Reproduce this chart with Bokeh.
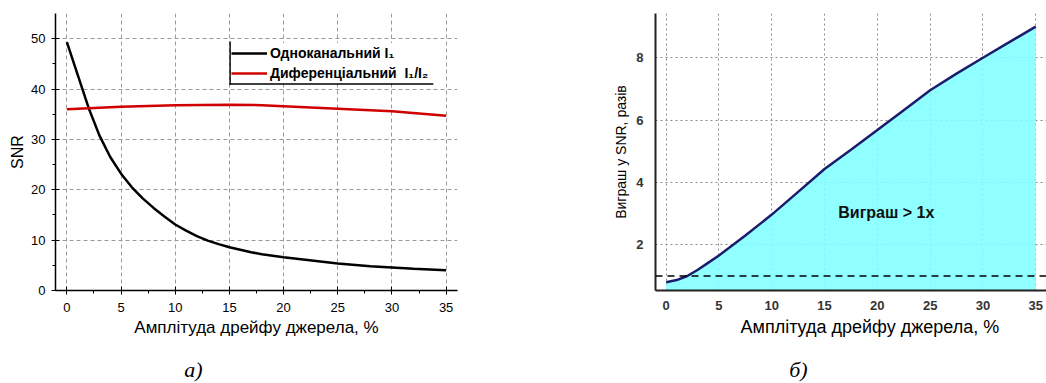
from bokeh.plotting import figure
from bokeh.layouts import row, column
from bokeh.models import (Legend, LegendItem, Span, Label, Title, FixedTicker,
                          Range1d, BoxAnnotation)
from bokeh.embed import file_html
from bokeh.resources import INLINE

# ---- data ----
drift_single = [0, 1, 2, 3, 4, 5, 6, 7, 8, 9, 10, 11, 12, 13, 14, 15, 16, 17, 18, 20,
                22, 25, 28, 30, 32, 35]
snr_single = [49.3, 42.8, 36.3, 30.8, 26.5, 23.2, 20.5, 18.3, 16.4, 14.7, 13.1, 11.9,
              10.8, 9.9, 9.2, 8.6, 8.1, 7.6, 7.2, 6.6, 6.1, 5.35, 4.8, 4.55, 4.3, 4.0]
drift_diff = [0, 5, 10, 15, 18, 20, 25, 30, 35]
snr_diff = [36.0, 36.5, 36.8, 36.9, 36.8, 36.6, 36.1, 35.6, 34.7]

drift_gain = [0, 1, 2, 3, 4, 5, 7.5, 10, 12.5, 15, 17.5, 20, 22.5, 25, 27.5, 30, 32.5, 35]
gain = [0.80, 0.87, 1.0, 1.2, 1.43, 1.66, 2.3, 2.97, 3.7, 4.43, 5.05, 5.68, 6.32, 6.96,
        7.49, 8.0, 8.5, 9.0]
gain_threshold = 1.0

x_ticks = [0, 5, 10, 15, 20, 25, 30, 35]
x_minor = [2.5, 7.5, 12.5, 17.5, 22.5, 27.5, 32.5]
snr_ticks = [0, 10, 20, 30, 40, 50]
snr_minor = [5, 15, 25, 35, 45]
gain_ticks = [2, 4, 6, 8]

label_single = "Одноканальний I\u2081"
label_diff = "Диференціальний  I\u2081/I\u2082"
x_title = "Амплітуда дрейфу джерела, %"
panel_tags = ["а)", "б)"]

FONT = "Liberation Sans"
SERIF = "Liberation Serif"

# ---- left chart ----
p1 = figure(width=538, height=350, x_range=Range1d(-1.05, 36.05), y_range=Range1d(0, 55),
            output_backend="svg", toolbar_location=None,
            min_border_left=55, min_border_right=81, min_border_top=13, min_border_bottom=60)
p1.outline_line_color = None

r1 = p1.line(drift_single, snr_single, line_color="black", line_width=2.5)
r2 = p1.line(drift_diff, snr_diff, line_color="#d10000", line_width=2.5)

p1.xaxis.ticker = FixedTicker(ticks=x_ticks, minor_ticks=x_minor)
p1.yaxis.ticker = FixedTicker(ticks=snr_ticks, minor_ticks=snr_minor)
for ax in (p1.xaxis[0], p1.yaxis[0]):
    ax.axis_line_width = 1.5
    ax.axis_line_color = "black"
    ax.major_tick_in = 4
    ax.major_tick_out = 4
    ax.minor_tick_in = 0
    ax.minor_tick_out = 3
    ax.major_tick_line_color = "black"
    ax.minor_tick_line_color = "black"
    ax.major_label_text_font = FONT
    ax.major_label_text_font_size = "13px"
    ax.major_label_text_color = "black"
    ax.axis_label_text_font = FONT
    ax.axis_label_text_font_style = "normal"
    ax.axis_label_text_color = "black"
p1.xaxis.axis_label_text_font_size = "17px"
p1.yaxis.axis_label_text_font_size = "16px"
p1.xaxis.major_label_standoff = 8
p1.yaxis.major_label_standoff = 6
p1.xaxis.axis_label = x_title
p1.xaxis.axis_label_standoff = 3
p1.yaxis.axis_label = "SNR"
p1.yaxis.axis_label_standoff = 2

p1.xgrid.ticker = FixedTicker(ticks=x_ticks)
p1.ygrid.ticker = FixedTicker(ticks=snr_ticks[1:])
p1.grid.grid_line_color = "#9a9a9a"
p1.grid.grid_line_dash = "4 3"
p1.grid.grid_line_width = 1

legend = Legend(items=[LegendItem(label=label_single, renderers=[r1]),
                       LegendItem(label=label_diff, renderers=[r2])],
                location=(176, 207), orientation="vertical",
                label_text_font=FONT, label_text_font_size="14px",
                label_text_font_style="bold", label_text_color="black",
                glyph_width=36, glyph_height=20, label_height=20, label_standoff=3,
                padding=0, spacing=0, margin=0,
                border_line_color=None, background_fill_color="white",
                background_fill_alpha=1.0)
p1.add_layout(legend)
# L-shaped legend frame (left and bottom edges), drawn on top of the legend
p1.add_layout(BoxAnnotation(left=15.0, right=15.13, bottom=40.85, top=49.45,
                            fill_color="black", fill_alpha=1, line_alpha=0,
                            level="overlay"))
p1.add_layout(BoxAnnotation(left=15.0, right=33.82, bottom=40.85, top=41.15,
                            fill_color="black", fill_alpha=1, line_alpha=0,
                            level="overlay"))

# ---- right chart ----
p2 = figure(width=508, height=350, x_range=Range1d(-1.01, 36.02), y_range=Range1d(0.535, 9.42),
            output_backend="svg", toolbar_location=None,
            min_border_left=117, min_border_right=0, min_border_top=13, min_border_bottom=58)
p2.outline_line_color = None

p2.varea(x=drift_gain, y1=0, y2=gain, fill_color="#7FFFFF", fill_alpha=0.88)
p2.line(drift_gain, gain, line_color="#1c1c6e", line_width=2.5)
p2.add_layout(Span(location=gain_threshold, dimension="width", line_color="black",
                   line_dash="7 5", line_width=1.5))
p2.add_layout(Label(x=16.3, y=3.04, text="Виграш > 1x", text_font=FONT,
                    text_font_size="16px", text_font_style="bold",
                    text_baseline="middle", text_color="#111111"))

p2.xaxis.ticker = FixedTicker(ticks=x_ticks)
p2.yaxis.ticker = FixedTicker(ticks=gain_ticks)
for ax in (p2.xaxis[0], p2.yaxis[0]):
    ax.axis_line_width = 2
    ax.axis_line_color = "#222222"
    ax.major_tick_in = 0
    ax.major_tick_out = 0
    ax.minor_tick_in = 0
    ax.minor_tick_out = 0
    ax.major_label_text_font = FONT
    ax.major_label_text_font_size = "13px"
    ax.major_label_text_font_style = "bold"
    ax.major_label_text_color = "#333333"
    ax.axis_label_text_font = FONT
    ax.axis_label_text_font_size = "14px"
    ax.axis_label_text_font_style = "normal"
    ax.axis_label_text_color = "black"
p2.xaxis.major_label_standoff = 10
p2.yaxis.major_label_standoff = 12
p2.yaxis.axis_label = "Виграш у SNR, разів"
p2.yaxis.axis_label_standoff = 4

p2.xgrid.ticker = FixedTicker(ticks=x_ticks)
p2.ygrid.ticker = FixedTicker(ticks=gain_ticks)
p2.grid.grid_line_color = "#8a8a8a"
p2.grid.grid_line_dash = "2 3"
p2.grid.grid_line_width = 1

p2.add_layout(Title(text=x_title, align="left", offset=85, text_font=FONT,
                    text_font_size="18px", text_font_style="normal",
                    text_color="black", standoff=4), "below")

# ---- strip with the panel tags а) / б) ----
p3 = figure(width=1046, height=33, x_range=Range1d(0, 1046), y_range=Range1d(33, 0),
            x_axis_type=None, y_axis_type=None, output_backend="svg",
            toolbar_location=None, min_border=0)
p3.outline_line_color = None
p3.grid.visible = False
for tag, cx in zip(panel_tags, [193, 798]):
    p3.add_layout(Label(x=cx, y=19, text=tag, text_font=SERIF, text_font_style="italic",
                        text_font_size="22px", text_align="center",
                        text_baseline="middle", text_color="black"))

layout = column(row(p1, p2), p3)
open("out.html", "w").write(file_html(layout, INLINE))
